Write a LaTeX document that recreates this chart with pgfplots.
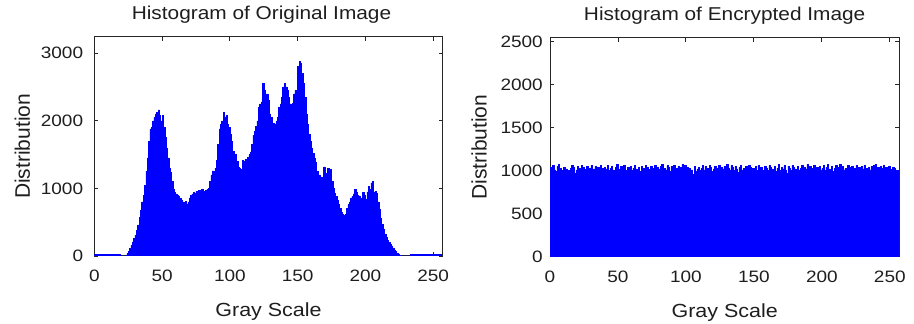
\documentclass[border=0pt]{standalone}
\usepackage{pgfplots}
\pgfplotsset{compat=1.18}
\usepackage{graphicx}
\usepackage{fontspec}
\setmainfont{Liberation Sans}
\definecolor{hblue}{RGB}{0,0,255}
\definecolor{txt}{RGB}{30,30,30}
\pgfplotsset{
  histo/.style={
    scale only axis,
    axis line style={black!85, line width=1pt},
    tick style={black!85, line width=0.9pt},
    tick align=inside,
    major tick length=4pt,
    xmin=0, xmax=257, ymin=0,
    xtick={0,50,100,150,200,250},
    /pgf/number format/assume math mode=true,
    /pgf/number format/1000 sep={},
    xticklabel={\scalebox{1.15}[1]{\pgfmathprintnumber{\tick}}},
    yticklabel={\scalebox{1.15}[1]{\pgfmathprintnumber{\tick}}},
    ticklabel style={font=\fontsize{16.5}{18}\selectfont, text=txt},
    xticklabel style={anchor=base, yshift=-25.7pt, inner sep=0pt},
    title style={at={(axis description cs:0.5,1)}, anchor=base, yshift=10.7pt, font=\fontsize{18.6}{20}\selectfont, text=txt},
    xlabel style={at={(axis description cs:0.5,0)}, anchor=base, yshift=-60.7pt, font=\fontsize{19}{21}\selectfont, text=txt},
    ylabel style={at={(axis description cs:0,0.5)}, anchor=base, font=\fontsize{21}{23}\selectfont, text=txt},
    xlabel={\scalebox{1.13}[1]{Gray Scale}},
    ylabel={Distribution},
  }
}
\begin{document}
\begin{tikzpicture}
\path[use as bounding box] (0pt,0pt) rectangle (914pt,324pt);
\begin{axis}[histo,
  at={(94.3pt,68pt)}, anchor=south west,
  width=348.4pt, height=219.3pt,
  ymax=3244,
  ytick={0,1000,2000,3000},
  yticklabel style={anchor=east, inner sep=0pt, xshift=-11pt},
  ylabel style={yshift=64.3pt},
  title style={xshift=-7pt},
  title={\scalebox{1.12}[1]{Histogram of Original Image}},
]
\addplot[const plot, fill=hblue, draw=hblue, line width=0.5pt] table[row sep=\\] {
x y\\
0 25\\1 28\\2 22\\3 26\\4 24\\5 27\\6 23\\7 25\\8 26\\9 22\\10 25\\11 27\\12 24\\13 26\\14 23\\15 25\\
16 24\\17 22\\18 20\\19 8\\20 0\\21 0\\22 0\\23 10\\24 40\\25 70\\26 110\\27 160\\28 210\\29 260\\30 310\\31 380\\
32 460\\33 570\\34 680\\35 800\\36 900\\37 1050\\38 1250\\39 1450\\40 1700\\41 1880\\42 1900\\43 2000\\44 2050\\45 2100\\46 2130\\47 2160\\
48 2080\\49 2000\\50 2080\\51 1900\\52 1750\\53 1600\\54 1450\\55 1300\\56 1240\\57 1100\\58 980\\59 940\\60 920\\61 900\\62 880\\63 850\\
64 830\\65 800\\66 790\\67 810\\68 770\\69 800\\70 860\\71 900\\72 920\\73 940\\74 930\\75 960\\76 940\\77 970\\78 950\\79 990\\
80 960\\81 940\\82 970\\83 990\\84 1000\\85 1100\\86 1200\\87 1260\\88 1250\\89 1300\\90 1420\\91 1650\\92 1880\\93 1950\\94 2000\\95 2120\\
96 2050\\97 2080\\98 1950\\99 1900\\100 1800\\101 1700\\102 1550\\103 1480\\104 1500\\105 1400\\106 1310\\107 1300\\108 1280\\109 1420\\110 1400\\111 1430\\
112 1420\\113 1460\\114 1500\\115 1540\\116 1650\\117 1780\\118 1850\\119 1920\\120 2000\\121 2200\\122 2250\\123 2280\\124 2550\\125 2450\\126 2230\\127 2400\\
128 2300\\129 2100\\130 2050\\131 1930\\132 1960\\133 1950\\134 2000\\135 2050\\136 2200\\137 2250\\138 2350\\139 2500\\140 2550\\141 2500\\142 2450\\143 2350\\
144 2250\\145 2230\\146 2260\\147 2400\\148 2450\\149 2400\\150 2800\\151 2880\\152 2850\\153 2700\\154 2550\\155 2350\\156 2100\\157 1950\\158 1800\\159 1700\\
160 1600\\161 1520\\162 1450\\163 1380\\164 1250\\165 1180\\166 1200\\167 1170\\168 1160\\169 1320\\170 1200\\171 1220\\172 1300\\173 1180\\174 1280\\175 1100\\
176 1000\\177 930\\178 880\\179 820\\180 760\\181 700\\182 650\\183 620\\184 610\\185 620\\186 700\\187 760\\188 800\\189 860\\190 880\\191 920\\
192 980\\193 950\\194 900\\195 890\\196 860\\197 840\\198 940\\199 900\\200 840\\201 950\\202 1030\\203 980\\204 1080\\205 1100\\206 940\\207 960\\
208 930\\209 800\\210 690\\211 560\\212 470\\213 400\\214 320\\215 280\\216 230\\217 200\\218 170\\219 150\\220 120\\221 90\\222 70\\223 40\\
224 25\\225 10\\226 0\\227 0\\228 0\\229 0\\230 0\\231 0\\232 0\\233 22\\234 25\\235 24\\236 26\\237 23\\238 25\\239 27\\
240 24\\241 22\\242 25\\243 26\\244 23\\245 25\\246 27\\247 24\\248 22\\249 25\\250 26\\251 24\\252 23\\253 25\\254 26\\255 24\\256 24\\
} \closedcycle;
\end{axis}
\begin{axis}[histo,
  at={(550pt,67.3pt)}, anchor=south west,
  width=349.3pt, height=219pt,
  ymax=2547,
  ytick={0,500,1000,1500,2000,2500},
  yticklabel style={anchor=east, inner sep=0pt, xshift=-7pt},
  ylabel style={yshift=63.3pt},
  title={\scalebox{1.12}[1]{Histogram of Encrypted Image}},
]
\addplot[const plot, fill=hblue, draw=hblue, line width=0.5pt] table[row sep=\\] {
x y\\
0 1040\\1 1000\\2 1060\\3 1010\\4 990\\5 1050\\6 1070\\7 1030\\8 1010\\9 980\\10 1040\\11 960\\12 1020\\13 1000\\14 950\\15 1030\\
16 1060\\17 1040\\18 970\\19 1010\\20 1050\\21 1030\\22 1000\\23 1060\\24 1040\\25 1020\\26 990\\27 1050\\28 1010\\29 1030\\30 1060\\31 1000\\
32 1020\\33 1050\\34 990\\35 1040\\36 1010\\37 1060\\38 1030\\39 970\\40 1040\\41 1020\\42 1060\\43 1000\\44 1030\\45 1050\\46 1010\\47 990\\
48 1040\\49 1070\\50 1020\\51 1000\\52 1050\\53 1030\\54 1060\\55 1010\\56 980\\57 1040\\58 1020\\59 1050\\60 1000\\61 1030\\62 1060\\63 1020\\
64 1010\\65 1040\\66 990\\67 1050\\68 1030\\69 1000\\70 1060\\71 1040\\72 1020\\73 970\\74 1050\\75 1030\\76 1010\\77 1060\\78 1000\\79 1040\\
80 1020\\81 1050\\82 1070\\83 1000\\84 1030\\85 1010\\86 1060\\87 1040\\88 990\\89 1050\\90 1020\\91 1060\\92 980\\93 1030\\94 1050\\95 1010\\
96 1040\\97 1070\\98 1020\\99 1060\\100 1000\\101 1040\\102 1030\\103 970\\104 1010\\105 960\\106 1050\\107 990\\108 1020\\109 1040\\110 1000\\111 1030\\
112 1060\\113 1010\\114 1050\\115 1000\\116 1030\\117 1060\\118 1040\\119 990\\120 1020\\121 1050\\122 1010\\123 1030\\124 1060\\125 1000\\126 1040\\127 1020\\
128 1050\\129 990\\130 1070\\131 1030\\132 1010\\133 1060\\134 1040\\135 1000\\136 1050\\137 1020\\138 980\\139 1040\\140 1060\\141 1010\\142 1030\\143 1000\\
144 1050\\145 1020\\146 1060\\147 1040\\148 990\\149 1030\\150 1010\\151 1050\\152 1000\\153 1060\\154 1020\\155 1040\\156 1010\\157 980\\158 1050\\159 1030\\
160 1000\\161 1060\\162 1040\\163 1020\\164 1010\\165 1050\\166 990\\167 1030\\168 1070\\169 1000\\170 1040\\171 1020\\172 1060\\173 1010\\174 970\\175 1050\\
176 1030\\177 1000\\178 1060\\179 1040\\180 1020\\181 990\\182 1050\\183 1010\\184 1030\\185 1060\\186 1000\\187 1040\\188 1020\\189 1070\\190 1010\\191 1050\\
192 1000\\193 1030\\194 1060\\195 1020\\196 1040\\197 990\\198 1050\\199 1010\\200 1030\\201 1060\\202 1000\\203 1040\\204 1070\\205 1020\\206 1010\\207 1050\\
208 990\\209 1030\\210 1060\\211 1040\\212 1000\\213 1070\\214 1020\\215 1050\\216 1010\\217 1030\\218 980\\219 1060\\220 1040\\221 1020\\222 1050\\223 1000\\
224 1030\\225 1060\\226 1010\\227 1040\\228 1000\\229 1050\\230 1020\\231 1060\\232 990\\233 1030\\234 1040\\235 1010\\236 1050\\237 1000\\238 1060\\239 1070\\
240 1020\\241 1040\\242 1000\\243 1050\\244 1030\\245 1060\\246 1010\\247 1040\\248 990\\249 1050\\250 1020\\251 1000\\252 1040\\253 1030\\254 1010\\255 1000\\256 1000\\
} \closedcycle;
\end{axis}
\end{tikzpicture}
\end{document}
